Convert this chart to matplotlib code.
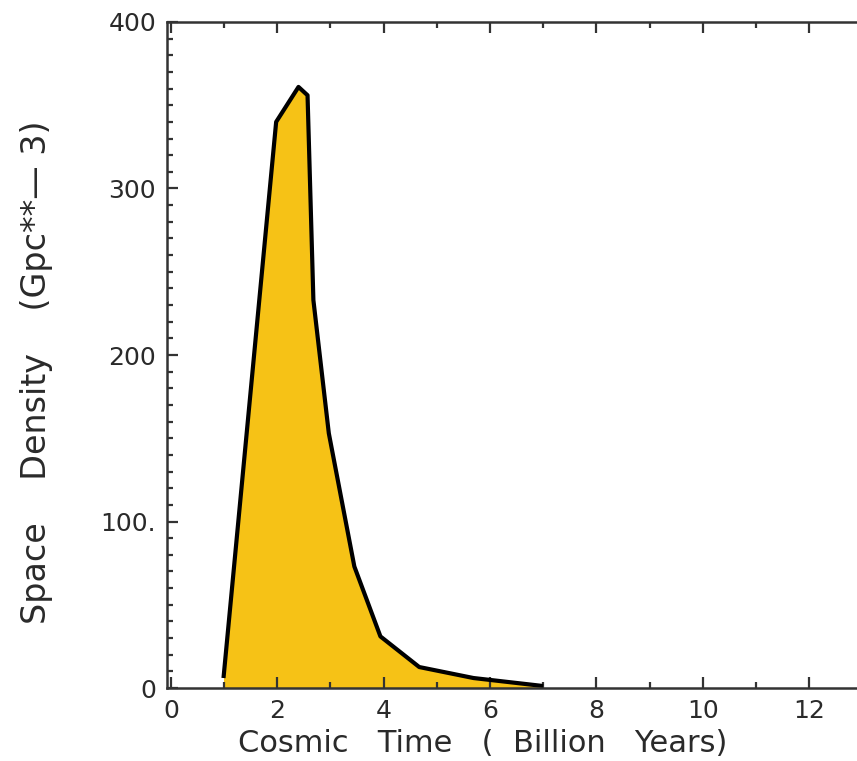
import matplotlib
matplotlib.use("Agg")
import matplotlib.pyplot as plt
from matplotlib.ticker import MultipleLocator

# cosmic time (Gyr) and space density (Gpc^-3)
cosmic_time = [0.99, 1.98, 2.40, 2.57, 2.68, 2.97, 3.45, 3.94, 4.67, 5.69, 7.00]
space_density = [6, 340, 361, 356, 233, 153, 73, 31, 12.6, 6, 1.2]

x_ticks = [0, 2, 4, 6, 8, 10, 12]
y_ticks = [0, 100, 200, 300, 400]
y_tick_labels = ["0", "100.", "200", "300", "400"]

fig = plt.figure(figsize=(8.57, 7.61), dpi=100)
ax = fig.add_axes([0.195, 0.0959, 0.805, 0.8752])

ax.fill_between(cosmic_time, space_density, 0, color="#f6c216", linewidth=0)
ax.plot(cosmic_time, space_density, color="black", linewidth=3,
        solid_joinstyle="round", solid_capstyle="butt")

ax.set_xlim(-0.07, 12.9)
ax.set_ylim(0, 400)

ax.xaxis.set_minor_locator(MultipleLocator(1))
ax.yaxis.set_minor_locator(MultipleLocator(10))
ax.set_xticks(x_ticks)
ax.set_yticks(y_ticks)
ax.set_yticklabels(y_tick_labels)

ax.tick_params(which="both", direction="in", top=True, right=False,
               color="#333333", width=1.6, labelsize=18, labelcolor="#2a2a2a",
               pad=8)
ax.tick_params(which="major", length=8)
ax.tick_params(which="minor", length=4)

for side in ["left", "bottom", "top"]:
    ax.spines[side].set_linewidth(1.8)
    ax.spines[side].set_color("#333333")
ax.spines["right"].set_visible(False)

ax.set_xlabel("Cosmic   Time   (  Billion   Years)", fontsize=22,
              color="#2a2a2a", va="center")
ax.xaxis.set_label_coords(0.458, -0.0826)

ax.set_ylabel("Space    Density    (Gpc**\u2014 3)", fontsize=24,
              color="#2a2a2a", va="center")
ax.yaxis.set_label_coords(-0.19, 0.474)

fig.savefig("out.png", dpi=100)
